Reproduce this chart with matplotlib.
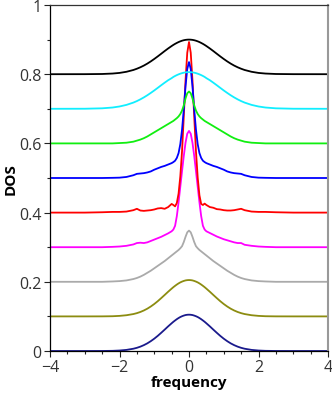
import matplotlib
matplotlib.use("Agg")
import matplotlib.pyplot as plt
from matplotlib.ticker import MultipleLocator

plt.rcParams['font.family'] = ['Open Sans', 'DejaVu Sans']

# frequency grid (half-grid, mirrored for the full axis)
x_half = [0, 0.05, 0.1, 0.15, 0.2, 0.25, 0.3, 0.35, 0.4, 0.45, 0.5, 0.6, 0.7, 0.8,
          0.9, 1.0, 1.1, 1.2, 1.3, 1.4, 1.5, 1.6, 1.8, 2.0, 2.2, 2.5, 3.0, 4.0]
freq = [-v for v in x_half[::-1]] + x_half[1:]

offsets = [0.0, 0.1, 0.2, 0.3, 0.4, 0.5, 0.6, 0.7, 0.8]
colors = ['#1a1a8c', '#8c8c10', '#aaaaaa', '#ff00ff', '#ff0000', '#0000ff',
          '#11ee11', '#11eeff', '#000000']

# DOS above each baseline, listed from freq=-4 to freq=+4
dos_navy = [0, 0, 0.0001, 0.0005, 0.0014, 0.0032, 0.0066, 0.0092, 0.0126, 0.0169, 0.0221,
            0.0284, 0.0356, 0.0437, 0.0526, 0.0618, 0.0712, 0.0801, 0.0844, 0.0883, 0.0920,
            0.0953, 0.0982, 0.1005, 0.1024, 0.1039, 0.1047, 0.105,
            0.1047, 0.1039, 0.1024, 0.1005, 0.0982, 0.0953, 0.0920, 0.0883, 0.0844, 0.0801,
            0.0712, 0.0618, 0.0526, 0.0437, 0.0356, 0.0284, 0.0221, 0.0169, 0.0126, 0.0092,
            0.0066, 0.0032, 0.0014, 0.0005, 0.0001, 0, 0]
dos_olive = [0, 0, 0.0001, 0.0005, 0.0015, 0.0034, 0.0068, 0.0094, 0.0128, 0.0171, 0.0223,
             0.0286, 0.0358, 0.0439, 0.0528, 0.0620, 0.0713, 0.0802, 0.0845, 0.0884, 0.0921,
             0.0954, 0.0983, 0.1006, 0.1025, 0.1040, 0.1048, 0.1051,
             0.1048, 0.1040, 0.1025, 0.1006, 0.0983, 0.0954, 0.0921, 0.0884, 0.0845, 0.0802,
             0.0713, 0.0620, 0.0528, 0.0439, 0.0358, 0.0286, 0.0223, 0.0171, 0.0128, 0.0094,
             0.0068, 0.0034, 0.0015, 0.0005, 0.0001, 0, 0]
dos_gray = [0, 0, 0, 0.001, 0.002, 0.004, 0.008, 0.011, 0.015, 0.020, 0.026,
            0.032, 0.039, 0.046, 0.053, 0.060, 0.068, 0.076, 0.080, 0.084, 0.088,
            0.092, 0.097, 0.103, 0.115, 0.130, 0.143, 0.148,
            0.143, 0.130, 0.115, 0.103, 0.097, 0.092, 0.088, 0.084, 0.080, 0.076,
            0.068, 0.060, 0.053, 0.046, 0.039, 0.032, 0.026, 0.020, 0.015, 0.011,
            0.008, 0.004, 0.002, 0.001, 0, 0, 0]
dos_magenta = [0, 0, 0, 0.001, 0.002, 0.004, 0.008, 0.012, 0.013, 0.012, 0.014,
               0.018, 0.022, 0.026, 0.030, 0.035, 0.040, 0.046, 0.051, 0.062, 0.090,
               0.130, 0.175, 0.220, 0.264, 0.302, 0.328, 0.336,
               0.328, 0.302, 0.264, 0.220, 0.175, 0.130, 0.090, 0.062, 0.051, 0.046,
               0.041, 0.036, 0.031, 0.027, 0.023, 0.020, 0.017, 0.014, 0.012, 0.012,
               0.007, 0.004, 0.002, 0.001, 0, 0, 0]
dos_red = [0, 0, 0.001, 0.002, 0.002, 0.003, 0.007, 0.011, 0.006, 0.005, 0.006,
           0.007, 0.009, 0.012, 0.013, 0.011, 0.016, 0.025, 0.022, 0.018, 0.028,
           0.055, 0.105, 0.178, 0.278, 0.382, 0.462, 0.493,
           0.462, 0.382, 0.278, 0.178, 0.102, 0.050, 0.025, 0.022, 0.026, 0.022,
           0.016, 0.014, 0.010, 0.009, 0.007, 0.006, 0.006, 0.007, 0.009, 0.011,
           0.007, 0.003, 0.002, 0.002, 0.001, 0, 0]
dos_blue = [0, 0, 0, 0.0005, 0.001, 0.003, 0.008, 0.012, 0.013, 0.014, 0.016,
            0.019, 0.024, 0.028, 0.032, 0.035, 0.039, 0.043, 0.046, 0.050, 0.058,
            0.072, 0.098, 0.140, 0.198, 0.265, 0.315, 0.335,
            0.315, 0.265, 0.198, 0.140, 0.098, 0.072, 0.058, 0.050, 0.046, 0.043,
            0.039, 0.035, 0.032, 0.028, 0.024, 0.019, 0.016, 0.014, 0.013, 0.012,
            0.008, 0.003, 0.001, 0.0005, 0, 0, 0]
dos_green = [0, 0, 0, 0, 0.001, 0.002, 0.005, 0.008, 0.011, 0.015, 0.020,
             0.026, 0.032, 0.038, 0.044, 0.050, 0.056, 0.062, 0.065, 0.069, 0.073,
             0.078, 0.085, 0.095, 0.110, 0.130, 0.145, 0.150,
             0.145, 0.130, 0.110, 0.095, 0.085, 0.078, 0.073, 0.069, 0.065, 0.062,
             0.056, 0.050, 0.044, 0.038, 0.032, 0.026, 0.020, 0.015, 0.011, 0.008,
             0.005, 0.002, 0.001, 0, 0, 0, 0]
dos_cyan = [0, 0.0002, 0.0014, 0.0037, 0.0067, 0.0113, 0.0180, 0.0223, 0.0273, 0.0329, 0.0391,
            0.0459, 0.0530, 0.0605, 0.0681, 0.0755, 0.0826, 0.0886, 0.0921, 0.0949, 0.0974,
            0.0996, 0.1015, 0.1031, 0.1044, 0.1053, 0.1059, 0.106,
            0.1059, 0.1053, 0.1044, 0.1031, 0.1015, 0.0996, 0.0974, 0.0949, 0.0921, 0.0886,
            0.0826, 0.0755, 0.0681, 0.0605, 0.0530, 0.0459, 0.0391, 0.0329, 0.0273, 0.0223,
            0.0180, 0.0113, 0.0067, 0.0037, 0.0014, 0.0002, 0]
dos_black = [0, 0.0001, 0.0006, 0.0019, 0.0037, 0.0070, 0.0122, 0.0158, 0.0200, 0.0249, 0.0306,
             0.0370, 0.0440, 0.0514, 0.0591, 0.0669, 0.0744, 0.0814, 0.0847, 0.0877, 0.0904,
             0.0929, 0.0950, 0.0968, 0.0982, 0.0992, 0.0998, 0.100,
             0.0998, 0.0992, 0.0982, 0.0968, 0.0950, 0.0929, 0.0904, 0.0877, 0.0847, 0.0814,
             0.0744, 0.0669, 0.0591, 0.0514, 0.0440, 0.0370, 0.0306, 0.0249, 0.0200, 0.0158,
             0.0122, 0.0070, 0.0037, 0.0019, 0.0006, 0.0001, 0]

series = [dos_navy, dos_olive, dos_gray, dos_magenta, dos_red, dos_blue,
          dos_green, dos_cyan, dos_black]

xticks = [-4, -2, 0, 2, 4]
yticks = [0, 0.2, 0.4, 0.6, 0.8, 1]
ytick_labels = ['0', '0.2', '0.4', '0.6', '0.8', '1']

fig = plt.figure(figsize=(3.32, 4.02), dpi=100)
ax = fig.add_axes([50/332, 1 - 352/402, 278/332, 346/402])

for vals, off, c in zip(series, offsets, colors):
    ax.plot(freq, [v + off for v in vals], color=c, lw=1.3, solid_joinstyle='round')

ax.set_xlim(-4, 4)
ax.set_ylim(0, 1)
ax.set_xticks(xticks)
ax.set_xticklabels(['\u22124', '\u22122', '0', '2', '4'])
ax.set_yticks(yticks)
ax.set_yticklabels(ytick_labels)
ax.xaxis.set_minor_locator(MultipleLocator(0.5))
ax.yaxis.set_minor_locator(MultipleLocator(0.1))
ax.tick_params(which='major', direction='out', length=4, width=0.8,
               labelsize=11.5, colors='#222222', labelcolor='#333333', pad=2)
ax.tick_params(which='minor', direction='out', length=2.2, width=0.8, colors='#222222')
ax.tick_params(top=False, right=False, which='both')

ax.spines['left'].set_color('#000000')
ax.spines['bottom'].set_color('#000000')
ax.spines['top'].set_color('#333333')
ax.spines['right'].set_color('#999999')
ax.spines['right'].set_linewidth(1.5)
for s in ['left', 'bottom', 'top']:
    ax.spines[s].set_linewidth(0.9)

ax.set_xlabel('frequency', fontsize=11, fontweight='bold', labelpad=0)
ax.set_ylabel('DOS', fontsize=11, fontweight='bold', labelpad=1)

fig.savefig('out.png', dpi=100)
